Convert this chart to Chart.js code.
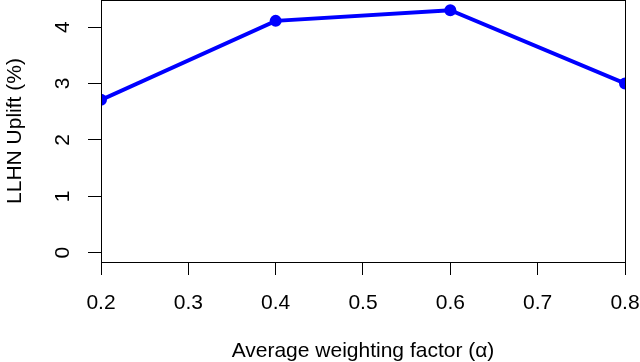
<!DOCTYPE html>
<html lang="en">
<head>
    <meta charset="UTF-8">
    <title>LLHN Uplift</title>
    <script src="https://cdn.jsdelivr.net/npm/chart.js"></script>
    <style>
        body { margin: 0; background: white; }
        #wrap { width: 640px; height: 362px; }
    </style>
</head>
<body>
    <div id="wrap"><canvas id="upliftChart"></canvas></div>

    <script>
        const alphaValues = [0.2, 0.4, 0.6, 0.8];
        const upliftValues = [2.71, 4.11, 4.30, 3.0];
        const xTicks = [0.2, 0.3, 0.4, 0.5, 0.6, 0.7, 0.8];
        const yTicks = [0, 1, 2, 3, 4];

        const font = { family: 'Liberation Sans, Arial, sans-serif', size: 21 };

        // no extra room for half labels at the ends of the axes
        function noPadding(s) {
            s.paddingLeft = 0;
            s.paddingRight = 0;
            s.paddingTop = 0;
            s.paddingBottom = 0;
        }

        // closed box around the plot area, like R's box()
        const boxPlugin = {
            id: 'box',
            afterDatasetsDraw(chart) {
                const a = chart.chartArea;
                const ctx = chart.ctx;
                ctx.save();
                ctx.strokeStyle = '#000';
                ctx.lineWidth = 1;
                ctx.strokeRect(a.left + 0.5, a.top + 0.5, a.right - a.left, a.bottom - a.top);
                ctx.restore();
            }
        };

        new Chart(document.getElementById('upliftChart'), {
            type: 'line',
            data: {
                datasets: [{
                    data: alphaValues.map((x, i) => ({ x: x, y: upliftValues[i] })),
                    borderColor: '#0000ff',
                    backgroundColor: '#0000ff',
                    borderWidth: 4,
                    pointRadius: 6,
                    pointBorderWidth: 0,
                    tension: 0,
                    clip: 0
                }]
            },
            options: {
                responsive: true,
                maintainAspectRatio: false,
                animation: false,
                layout: { autoPadding: false, padding: { top: 0, right: 15, bottom: 0, left: 0 } },
                plugins: { legend: { display: false }, tooltip: { enabled: false } },
                scales: {
                    x: {
                        type: 'linear',
                        min: 0.2,
                        max: 0.8,
                        afterBuildTicks: s => { s.ticks = xTicks.map(v => ({ value: v })); },
                        afterFit: s => { s.height = 100; noPadding(s); },
                        grid: { drawOnChartArea: false, tickLength: 13, tickColor: '#000' },
                        border: { color: '#000' },
                        ticks: {
                            color: '#000', font: font, padding: 16, maxRotation: 0,
                            callback: v => v.toFixed(1)
                        },
                        title: {
                            display: true, text: 'Average weighting factor (\u03b1)',
                            color: '#000', font: font, padding: { top: 0, bottom: -2 }
                        }
                    },
                    y: {
                        min: -0.165,
                        max: 4.48,
                        afterBuildTicks: s => { s.ticks = yTicks.map(v => ({ value: v })); },
                        afterFit: s => { s.width = 101; noPadding(s); },
                        grid: { drawOnChartArea: false, tickLength: 13, tickColor: '#000' },
                        border: { color: '#000' },
                        ticks: {
                            color: '#000', font: font, padding: 19,
                            minRotation: 90, maxRotation: 90, crossAlign: 'center'
                        },
                        title: {
                            display: true, text: 'LLHN Uplift (%)',
                            color: '#000', font: font, padding: { top: 3, bottom: 0 }
                        }
                    }
                }
            },
            plugins: [boxPlugin]
        });
    </script>
</body>
</html>
